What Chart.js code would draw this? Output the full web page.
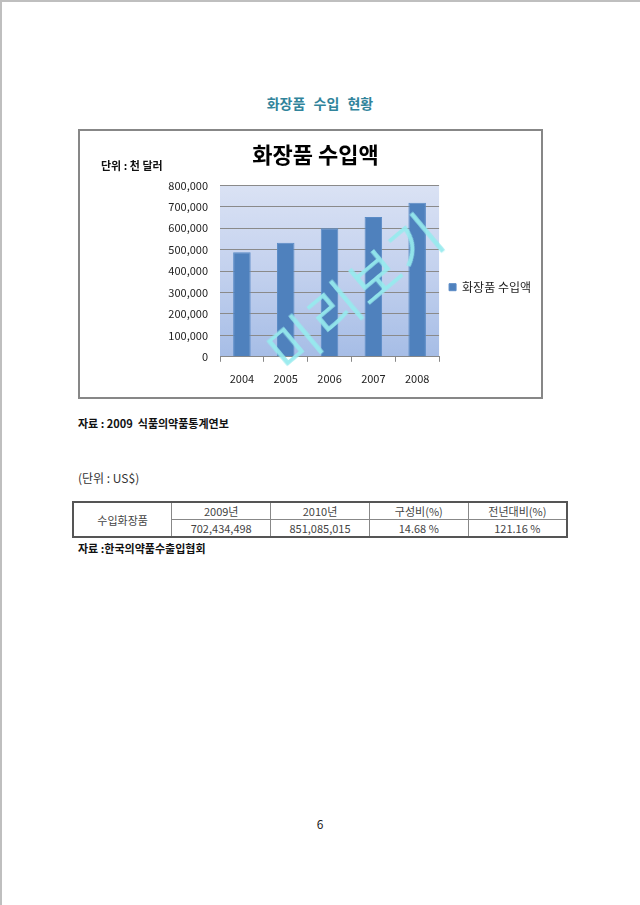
<!DOCTYPE html>
<html>
<head>
<meta charset="utf-8">
<script src="https://cdn.jsdelivr.net/npm/chart.js@4.4.1/dist/chart.umd.min.js"></script>
<style>
  html, body { margin: 0; padding: 0; background: #fff; }
  body { width: 640px; height: 905px; position: relative; overflow: hidden;
         font-family: "Noto Sans CJK KR", "Noto Sans", sans-serif; color: #222; }
  .pageEdge { position: absolute; left: 0; top: 0; width: 640px; height: 905px;
              border-top: 2px solid #bfbfbf; border-left: 2px solid #bfbfbf; box-sizing: border-box; }
  .heading { position: absolute; left: 0; width: 640px; top: 93px; text-align: center;
             font-size: 14px; font-weight: bold; color: #31849b; word-spacing: 5px; }
  .chartBox { position: absolute; left: 78px; top: 129px; width: 465px; height: 270px;
              border: 2px solid #878787; box-sizing: border-box; background: #fff; }
  .chartBox canvas { display: block; }
  .watermark { position: absolute; left: 354px; top: 290px; transform: translate(-50%, -50%) rotate(-40deg);
               font-size: 54px; letter-spacing: 3px; color: rgba(150, 234, 238, 0.92);
               white-space: nowrap; pointer-events: none; font-weight: 400; }
  .note { position: absolute; left: 78px; font-size: 11px; font-weight: bold; color: #111; }
  .unit { position: absolute; left: 78px; top: 469px; font-size: 12px; color: #333; }
  table.stats { position: absolute; left: 72px; top: 501px; width: 496px; border-collapse: collapse;
                font-size: 11px; color: #444; table-layout: fixed; border: 2px solid #555; }
  table.stats td { border: 1px solid #888; text-align: center; height: 16px; padding: 0; }
  .pageNo { position: absolute; left: 0; width: 640px; top: 815px; text-align: center; font-size: 12px; color: #222; }
</style>
</head>
<body>
<div class="pageEdge"></div>
<div class="heading">화장품 수입 현황</div>
<div class="chartBox"><canvas id="importChart" width="461" height="266"></canvas></div>
<div class="watermark">미리보기</div>
<div class="note" style="top:415px;">자료 : 2009 &nbsp;식품의약품통계연보</div>
<div class="unit">(단위 : US$)</div>
<table class="stats" id="statsTable"></table>
<div class="note" style="top:540px;">자료 :한국의약품수출입협회</div>
<div class="pageNo">6</div>

<script>
// 차트 데이터
const years = ['2004', '2005', '2006', '2007', '2008'];
const importValues = [488000, 532000, 600000, 652000, 719000]; // 단위: 천 달러
const seriesName = '화장품 수입액';
const chartTitle = '화장품 수입액';
const unitLabel = '단위 : 천 달러';

// 표 데이터
const tableRowLabel = '수입화장품';
const tableHeaders = ['2009년', '2010년', '구성비(%)', '전년대비(%)'];
const tableValues = ['702,434,498', '851,085,015', '14.68 %', '121.16 %'];

function buildTable() {
    const table = document.getElementById('statsTable');
    let head = `<tr><td rowspan="2">${tableRowLabel}</td>`;
    tableHeaders.forEach(h => head += `<td>${h}</td>`);
    head += '</tr><tr>';
    tableValues.forEach(v => head += `<td>${v}</td>`);
    head += '</tr>';
    table.innerHTML = head;
}

// 플롯 영역 배경 그라데이션 + 단위 표시
const plotBackground = {
    id: 'plotBackground',
    beforeDraw(chart) {
        const { ctx, chartArea: a } = chart;
        const g = ctx.createLinearGradient(0, a.top, 0, a.bottom);
        g.addColorStop(0, '#dae2f4');
        g.addColorStop(0.5, '#c3d1ee');
        g.addColorStop(1, '#a6bde6');
        ctx.save();
        ctx.fillStyle = g;
        ctx.fillRect(a.left, a.top, a.right - a.left, a.bottom - a.top);
        ctx.restore();
    },
    afterDraw(chart) {
        const ctx = chart.ctx;
        ctx.save();
        ctx.font = 'bold 11px "Noto Sans CJK KR"';
        ctx.fillStyle = '#111';
        ctx.textBaseline = 'middle';
        ctx.fillText(unitLabel, 21, 35);
        ctx.restore();
    }
};

function createChart() {
    const ctx = document.getElementById('importChart').getContext('2d');
    new Chart(ctx, {
        type: 'bar',
        data: {
            labels: years,
            datasets: [{
                label: seriesName,
                data: importValues,
                backgroundColor: '#4f81bd',
                borderColor: '#5a8bc6',
                borderWidth: 1,
                barPercentage: 0.4,
                categoryPercentage: 1.0
            }]
        },
        options: {
            responsive: false,
            animation: false,
            devicePixelRatio: 1,
            layout: { padding: { left: 10, right: 0, top: 0, bottom: 2 } },
            plugins: {
                title: {
                    display: true,
                    text: chartTitle,
                    color: '#000',
                    font: { family: '"Noto Sans CJK KR"', size: 22, weight: 'bold' },
                    padding: { top: 10, bottom: 18 }
                },
                legend: {
                    position: 'right',
                    // 빈 제목으로 범례를 아래로 조금 내림
                    title: { display: true, text: '', padding: { top: 17, bottom: 17 }, font: { size: 12 } },
                    labels: {
                        boxWidth: 7, boxHeight: 7, padding: 10, color: '#222',
                        font: { family: '"Noto Sans CJK KR"', size: 12 }
                    }
                },
                tooltip: { enabled: false }
            },
            scales: {
                x: {
                    grid: { display: true, drawOnChartArea: false, drawTicks: true, tickLength: 5, color: '#888', offset: true },
                    border: { color: '#888' },
                    ticks: { color: '#222', padding: 10, font: { family: '"Noto Sans CJK KR"', size: 11 } }
                },
                y: {
                    min: 0, max: 800000,
                    afterFit(scale) { scale.width = 130; },
                    grid: { color: '#8a8a8a', drawTicks: false },
                    border: { display: false },
                    ticks: {
                        stepSize: 100000, padding: 12, color: '#222',
                        font: { family: '"Noto Sans CJK KR"', size: 11 },
                        callback: v => v.toLocaleString('en-US')
                    }
                }
            }
        },
        plugins: [plotBackground]
    });
}

buildTable();
createChart();
</script>
</body>
</html>
